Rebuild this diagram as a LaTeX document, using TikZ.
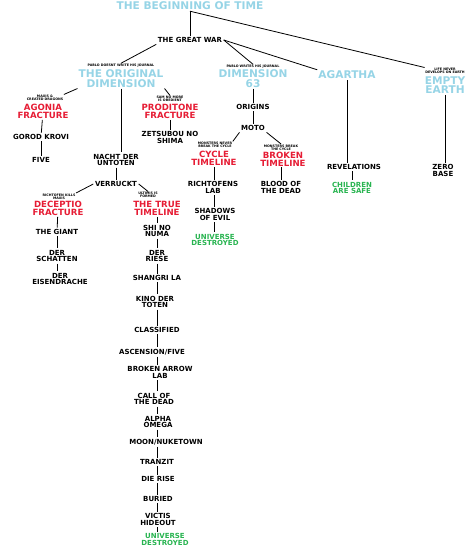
\documentclass[tikz,border=0pt]{standalone}
\usepackage{fontspec}
\setmainfont{DejaVu Sans}
\usepackage{tikz}
\usetikzlibrary{positioning}
\definecolor{eraBlue}{RGB}{150,212,230}
\definecolor{fractureRed}{RGB}{230,28,52}
\definecolor{endGreen}{RGB}{40,180,80}

\tikzset{
  era/.style={text=eraBlue,font=\bfseries\fontsize{10.6}{9.6}\selectfont,align=center,inner sep=1pt},
  fracture/.style={text=fractureRed,font=\bfseries\fontsize{8.6}{8}\selectfont,align=center,inner sep=1pt},
  map/.style={font=\bfseries\fontsize{7}{6.6}\selectfont,align=center,inner sep=1.5pt},
  ending/.style={text=endGreen,font=\bfseries\fontsize{7}{6.6}\selectfont,align=center,inner sep=1.5pt},
  note/.style={font=\bfseries\fontsize{3.3}{3.2}\selectfont,align=center,inner sep=0.5pt},
  link/.style={line width=0.8pt}
}

\begin{document}
\begin{tikzpicture}[x=1pt,y=-1pt]
    \useasboundingbox (0,0) rectangle (474,547);
    % top of the tree
    \node[era] (time) at (190,6) {THE BEGINNING OF TIME};
    \node[map] (war) at (190,40) {THE GREAT WAR};
    \node[note] (orignote) at (121,65.5) {PABLO DOESNT WRITE HIS JOURNAL};
    \node[era] (orig) at (121,78.5) {THE ORIGINAL\\DIMENSION};
    \node[note] (d63note) at (253,66.5) {PABLO WRITES HIS JOURNAL};
    \node[era] (d63) at (253,78.5) {DIMENSION\\63};
    \node[era] (agartha) at (347,75) {AGARTHA};
    \node[note] (earthnote) at (445,71) {LIFE NEVER\\DEVELOPS ON EARTH};
    \node[era] (earth) at (445,85) {EMPTY\\EARTH};

    % original dimension
    \node[note] (agonianote) at (45,98) {MAXIS \&\\CREATED DRAGONS};
    \node[fracture] (agonia) at (43,111.5) {AGONIA\\FRACTURE};
    \node[map] (gorod) at (41,137) {GOROD KROVI};
    \node[map] (five) at (41,160) {FIVE};
    \node[note] (prodnote) at (170,99) {SAM NO MORE\\IS OBEDIENT};
    \node[fracture] (prod) at (170,111.5) {PRODITONE\\FRACTURE};
    \node[map] (zetsubou) at (170,137.5) {ZETSUBOU NO\\SHIMA};
    \node[map] (nacht) at (116,160) {NACHT DER\\UNTOTEN};
    \node[map] (verruckt) at (116,184) {VERRUCKT};
    \node[note] (deceptionote) at (59,196.5) {RICHTOFEN KILLS\\MAXIS};
    \node[fracture] (deceptio) at (58,208.5) {DECEPTIO\\FRACTURE};
    \node[map] (giant) at (57,232) {THE GIANT};
    \node[map] (schatten) at (57,256) {DER\\SCHATTEN};
    \node[map] (eisen) at (60,279) {DER\\EISENDRACHE};
    \node[note] (truenote) at (148,195) {ULTIMIS IS\\FORMED};
    \node[fracture] (tt0) at (157,208.5) {THE TRUE\\TIMELINE};
    \coordinate (spine) at (157,0);
    \foreach \n/\x/\y/\lab in {1/157/231/{SHI NO\\NUMA}, 2/157/256/{DER\\RIESE},
        3/157/278/{SHANGRI LA}, 4/155/302/{KINO DER\\TOTEN}, 5/157/330/{CLASSIFIED},
        6/152/352/{ASCENSION/FIVE}, 7/160/372.5/{BROKEN ARROW\\LAB},
        8/154/399/{CALL OF\\THE DEAD}, 9/158/422/{ALPHA\\OMEGA},
        10/166/442/{MOON/NUKETOWN}, 11/157/462/{TRANZIT}, 12/158/479/{DIE RISE},
        13/158/499/{BURIED}, 14/158/519.5/{VICTIS\\HIDEOUT}}
      \node[map] (tt\n) at (\x,\y) {\lab};
    \node[ending] (tt15) at (165,539.5) {UNIVERSE\\DESTROYED};

    % dimension 63
    \node[map] (origins) at (253,107) {ORIGINS};
    \node[map] (moto) at (253,128) {MOTO};
    \node[note] (cyclenote) at (215,145) {MONSTERS NEVER\\BREAK THE CYCLE};
    \node[fracture] (cycle) at (214,158.5) {CYCLE\\TIMELINE};
    \node[note] (brokennote) at (281,147.5) {MONSTERS BREAK\\THE CYCLE};
    \node[fracture] (broken) at (283,159) {BROKEN\\TIMELINE};
    \node[map] (lab) at (213,187.5) {RICHTOFENS\\LAB};
    \node[map] (shadows) at (215,214.5) {SHADOWS\\OF EVIL};
    \node[ending] (destroyed) at (215,240) {UNIVERSE\\DESTROYED};
    \node[map] (blood) at (281,187.5) {BLOOD OF\\THE DEAD};

    % agartha and empty earth
    \node[map] (revelations) at (354,167) {REVELATIONS};
    \node[ending] (children) at (352,188) {CHILDREN\\ARE SAFE};
    \node[map] (zero) at (443,170.5) {ZERO\\BASE};

    % connectors
    \draw[link] (time.south) -- (war.north);
    \draw[link] (time.south) -- (earthnote.north west);
    \draw[link] (war.south west) -- (orignote.north);
    \draw[link] (war.east) -- (d63note.north);
    \draw[link] (war.east) -- (agartha.north west);
    \draw[link] (orig.south west) -- (agonianote.north east);
    \draw[link] (orig.south east) -- (prodnote.north);
    \draw[link] (orig.south) -- (orig.south |- nacht.north);
    \draw[link] (agonia) -- (gorod);
    \draw[link] (gorod) -- (five);
    \draw[link] (prod) -- (zetsubou);
    \draw[link] (nacht) -- (verruckt);
    \draw[link] (verruckt.west) -- (deceptionote.north east);
    \draw[link] (verruckt.east) -- (truenote.north);
    \draw[link] (deceptio) -- (giant);
    \draw[link] (giant) -- (schatten);
    \draw[link] (schatten) -- (eisen.north -| schatten.south);
    \foreach \n [count=\m from 0] in {1,...,15}
      \draw[link] (tt\m.south -| spine) -- (tt\n.north -| spine);
    \draw[link] (d63) -- (origins);
    \draw[link] (origins) -- (moto);
    \draw[link] (moto.south west) -- (cyclenote.north east);
    \draw[link] (moto.south east) -- (brokennote.north);
    \draw[link] (cycle) -- (lab.north -| cycle.south);
    \draw[link] (lab.south -| cycle.south) -- (shadows.north -| cycle.south);
    \draw[link] (shadows.south -| cycle.south) -- (destroyed.north -| cycle.south);
    \draw[link] (broken.south -| blood.north) -- (blood.north);
    \draw[link] (agartha.south) -- (agartha.south |- revelations.north);
    \draw[link] (revelations.south -| children.north) -- (children.north);
    \draw[link] (earth.south) -- (earth.south |- zero.north);
\end{tikzpicture}
\end{document}
